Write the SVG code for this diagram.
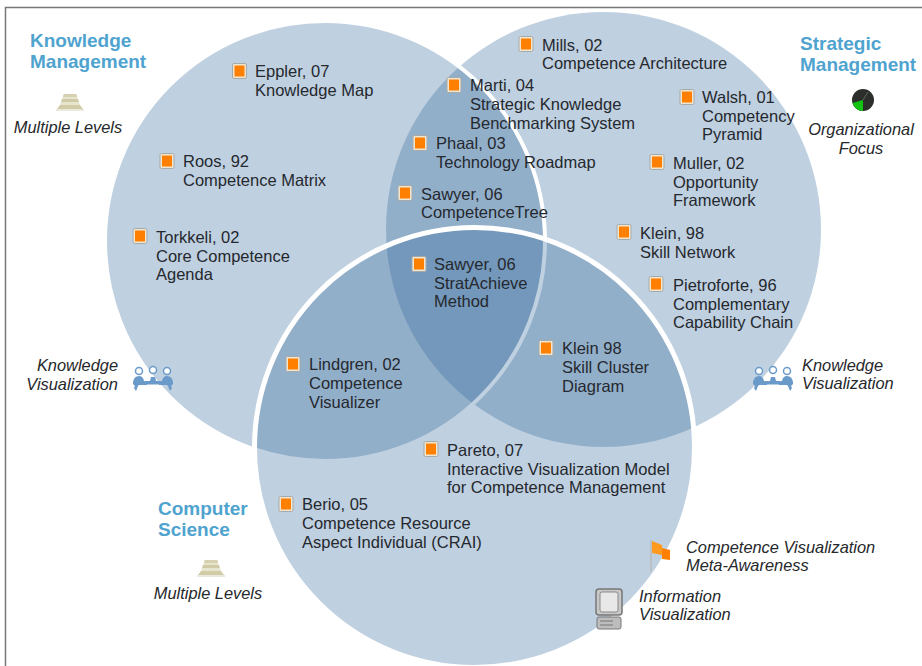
<svg xmlns="http://www.w3.org/2000/svg" width="922" height="666" viewBox="0 0 922 666">
<style>
text{font-family:"Liberation Sans",Arial,sans-serif}
.n{font-size:16.500px;fill:#25282e}
.i{font-size:16.400px;font-style:italic;fill:#26282b}
.h{font-size:19px;font-weight:bold;fill:#4fa3cf}
.c{fill:#2a6298;fill-opacity:.3}
</style>
<defs>
<g id="mk"><rect x="-7" y="-7.500" width="14" height="15" rx="1.500" fill="#efe6d2" stroke="#a8aaa8" stroke-width="1"/><rect x="-5" y="-5.500" width="10" height="11" fill="#ff8000"/></g>
<g id="pyr"><path d="M-13 0l3-4h20l3 4z" fill="#d2cca6"/><path d="M-10 -4l1-3h18l1 3z" fill="#e8e5cf"/><path d="M-9 -7l1-3h16l1 3z" fill="#cfc9a6"/><path d="M-8 -10l1-2h14l1 2z" fill="#e8e5cf"/><path d="M-7 -12l.5-3h13l.5 3z" fill="#d6d1b0"/><rect x="-14" y="0" width="28" height="2" fill="#ebe9dd"/></g>
<g id="ppl" fill="#6a9ac9"><circle cx="-14" cy="-8" r="3.500" fill="#fff" stroke="#6a9ac9" stroke-width="1.500"/><circle cx="0" cy="-9" r="3.500" fill="#fff" stroke="#6a9ac9" stroke-width="1.500"/><circle cx="14" cy="-8" r="3.500" fill="#fff" stroke="#6a9ac9" stroke-width="1.500"/><path id="pl" d="M-20 3q1-6 6-6q4 0 5 5l3 1v3h-8l-1 1l-2 5l-2-3l1-2l-2-2z"/><path d="M20 3q-1-6-6-6q-4 0-5 5l-3 1v3h8l1 1l2 5l2-3l-1-2l2-2z"/><rect x="-9" y="2" width="18" height="3.500" rx="1.500"/><path d="M-3 2l1-4h4l1 4z"/></g>
</defs>
<path d="M5.500 666V7.500H922" fill="none" stroke="#777" stroke-width="1.500"/>
<g id="connectors"></g>
<g id="circles">
<circle id="strategic-circle" class="c" cx="603.500" cy="229.500" r="217.500"/>
<circle id="knowledge-circle" class="c" cx="325" cy="241" r="220" stroke="#fff" stroke-width="4"/>
<circle id="computer-circle" class="c" cx="474.500" cy="447.500" r="220" stroke="#fff" stroke-width="5"/>
</g>
<g id="label-km"><text class="h" x="30" y="47">Knowledge</text><text class="h" x="30" y="68">Management</text></g>
<g id="label-sm"><text class="h" x="800" y="50">Strategic</text><text class="h" x="800" y="71">Management</text></g>
<g id="label-cs"><text class="h" x="158" y="515">Computer</text><text class="h" x="158" y="536">Science</text></g>
<g id="multi-1"><use href="#pyr" x="70" y="109"/><text class="i" x="68" y="133" text-anchor="middle">Multiple Levels</text></g>
<g id="multi-2"><use href="#pyr" x="211" y="575"/><text class="i" x="208" y="599" text-anchor="middle">Multiple Levels</text></g>
<g id="focus"><circle cx="863" cy="100" r="11" fill="#2c2e2c"/><path d="M863 100l-10.500 3a11 11 0 0 0 10.500 8z" fill="#12c312"/><path d="M863 100l5-8" stroke="#5a6a5a"/><text class="i" x="861" y="135" text-anchor="middle">Organizational</text><text class="i" x="861" y="154" text-anchor="middle">Focus</text></g>
<g id="kv-left"><text class="i" x="118" y="371" text-anchor="end">Knowledge</text><text class="i" x="118" y="390" text-anchor="end">Visualization</text><use href="#ppl" x="153" y="379"/></g>
<g id="kv-right"><use href="#ppl" x="773" y="379"/><text class="i" x="802" y="371">Knowledge</text><text class="i" x="802" y="389">Visualization</text></g>
<g id="meta"><path d="M651 540v32" stroke="#b9bcbc" stroke-width="1.500"/><path d="M652 541l10 4v10l-10-2z" fill="#ff9a1f"/><path d="M662 548l8 2v10l-8-1z" fill="#ff8000"/><text class="i" x="686" y="553">Competence Visualization</text><text class="i" x="686" y="571">Meta-Awareness</text></g>
<g id="infovis"><rect x="596" y="589" width="26" height="26" rx="3" fill="#c8c8c8" stroke="#777" stroke-width="1.500"/><rect x="600" y="592" width="18" height="20" rx="2" fill="#e8e8e8" stroke="#8a8a8a"/><rect x="597" y="617" width="24" height="12" rx="2" fill="#bdbdbd" stroke="#777"/><path d="M600 621h13M600 625h13" stroke="#777"/><text class="i" x="639" y="602">Information</text><text class="i" x="639" y="620">Visualization</text></g>
<g id="eppler"><use href="#mk" x="239.500" y="71"/><text class="n" x="255" y="77">Eppler, 07</text><text class="n" x="255" y="96">Knowledge Map</text></g>
<g id="roos"><use href="#mk" x="167" y="161"/><text class="n" x="183" y="167">Roos, 92</text><text class="n" x="183" y="186">Competence Matrix</text></g>
<g id="torkkeli"><use href="#mk" x="140" y="236"/><text class="n" x="156" y="243">Torkkeli, 02</text><text class="n" x="156" y="262">Core Competence</text><text class="n" x="156" y="280">Agenda</text></g>
<g id="mills"><use href="#mk" x="526" y="44"/><text class="n" x="542" y="51">Mills, 02</text><text class="n" x="542" y="69">Competence Architecture</text></g>
<g id="marti"><use href="#mk" x="454" y="85"/><text class="n" x="470" y="91">Marti, 04</text><text class="n" x="470" y="110">Strategic Knowledge</text><text class="n" x="470" y="129">Benchmarking System</text></g>
<g id="walsh"><use href="#mk" x="687" y="97"/><text class="n" x="702" y="103">Walsh, 01</text><text class="n" x="702" y="122">Competency</text><text class="n" x="702" y="140">Pyramid</text></g>
<g id="phaal"><use href="#mk" x="420" y="143"/><text class="n" x="436" y="149">Phaal, 03</text><text class="n" x="436" y="168">Technology Roadmap</text></g>
<g id="muller"><use href="#mk" x="657" y="162"/><text class="n" x="673" y="169">Muller, 02</text><text class="n" x="673" y="188">Opportunity</text><text class="n" x="673" y="206">Framework</text></g>
<g id="sawyer-tree"><use href="#mk" x="405" y="193"/><text class="n" x="421" y="200">Sawyer, 06</text><text class="n" x="421" y="218">CompetenceTree</text></g>
<g id="klein-network"><use href="#mk" x="624" y="232"/><text class="n" x="640" y="239">Klein, 98</text><text class="n" x="640" y="258">Skill Network</text></g>
<g id="sawyer-strat"><use href="#mk" x="419" y="264"/><text class="n" x="434" y="270">Sawyer, 06</text><text class="n" x="434" y="289">StratAchieve</text><text class="n" x="434" y="307">Method</text></g>
<g id="pietroforte"><use href="#mk" x="656" y="284"/><text class="n" x="673" y="291">Pietroforte, 96</text><text class="n" x="673" y="310">Complementary</text><text class="n" x="673" y="328">Capability Chain</text></g>
<g id="klein-cluster"><use href="#mk" x="546" y="348"/><text class="n" x="562" y="354">Klein 98</text><text class="n" x="562" y="373">Skill Cluster</text><text class="n" x="562" y="392">Diagram</text></g>
<g id="lindgren"><use href="#mk" x="293" y="364"/><text class="n" x="309" y="370">Lindgren, 02</text><text class="n" x="309" y="389">Competence</text><text class="n" x="309" y="408">Visualizer</text></g>
<g id="pareto"><use href="#mk" x="431" y="449"/><text class="n" x="447" y="456">Pareto, 07</text><text class="n" x="447" y="475">Interactive Visualization Model</text><text class="n" x="447" y="493">for Competence Management</text></g>
<g id="berio"><use href="#mk" x="286" y="504"/><text class="n" x="302" y="510">Berio, 05</text><text class="n" x="302" y="529">Competence Resource</text><text class="n" x="302" y="548">Aspect Individual (CRAI)</text></g>
</svg>
